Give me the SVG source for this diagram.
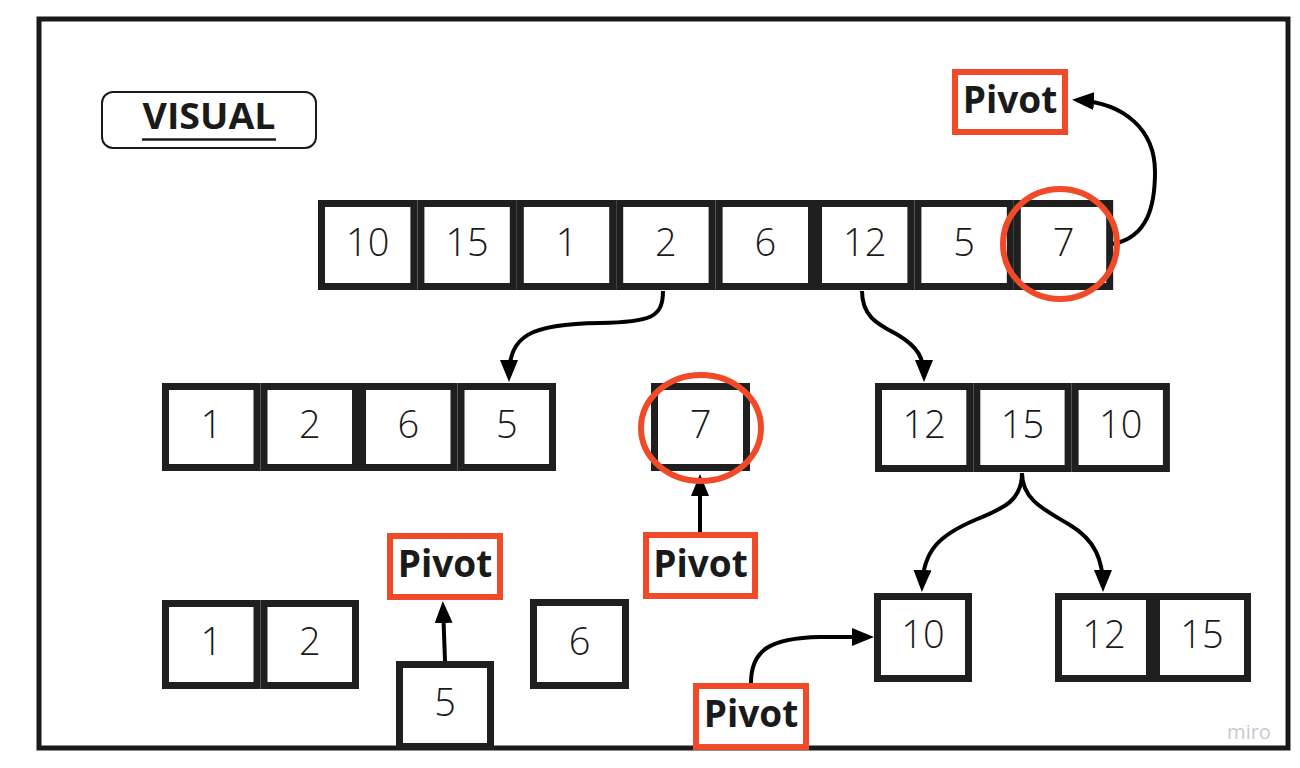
<svg xmlns="http://www.w3.org/2000/svg" width="1300" height="768" viewBox="0 0 1300 768">
<style>
.cell{fill:#fff;stroke:#1f1f1f;stroke-width:7}
.num{font-family:"Open Sans","Liberation Sans",sans-serif;font-size:38px;font-weight:300;fill:#1a1a1a;text-anchor:middle}
.pv{fill:#fff;stroke:#f04a28;stroke-width:6}
.pvt{font-family:"Open Sans","Liberation Sans",sans-serif;font-size:37px;font-weight:700;fill:#1a1a1a;text-anchor:middle}
.ring{fill:none;stroke:#f04a28;stroke-width:6}
.conn{fill:none;stroke:#000;stroke-width:4}
</style>
<defs>
<marker id="ah" viewBox="0 0 22 18" refX="17" refY="9" markerWidth="22" markerHeight="18" orient="auto" markerUnits="userSpaceOnUse"><path d="M0,0 L22,9 L0,18 Z" fill="#000"/></marker>
</defs>
<rect width="1300" height="768" fill="#fff"/>
<rect id="frame" x="39" y="19" width="1249" height="729" fill="none" stroke="#1a1a1a" stroke-width="5"/>
<g id="title">
<rect x="102" y="92" width="214" height="56" rx="11" fill="#fff" stroke="#1a1a1a" stroke-width="2"/>
<text x="209" y="129" textLength="133" lengthAdjust="spacingAndGlyphs" style="font-family:'Open Sans','Liberation Sans',sans-serif;font-size:36px;font-weight:700;fill:#1a1a1a;text-anchor:middle">VISUAL</text>
<line x1="142" y1="139.5" x2="276" y2="139.5" stroke="#1a1a1a" stroke-width="2.5"/>
</g>
<g id="connectors">
<path class="conn" marker-end="url(#ah)" d="M1112,244 C1148,238 1155,205 1155,172 C1155,130 1125,103 1077,100"/>
<path class="conn" marker-end="url(#ah)" d="M663,291 C663,318 650,322 600,323 C530,324 509,335 509,377"/>
<path class="conn" marker-end="url(#ah)" d="M862,291 C862,318 880,325 898,335 C918,347 924,358 924,377"/>
<path class="conn" marker-end="url(#ah)" d="M1022,473 C1022,500 1005,508 975,520 C940,535 923,550 922,587"/>
<path class="conn" marker-end="url(#ah)" d="M1022,473 C1022,500 1045,510 1070,525 C1095,540 1103,560 1103,587"/>
<path class="conn" marker-end="url(#ah)" d="M751,683 C751,650 770,638 820,637 L869,637"/>
<path class="conn" marker-end="url(#ah)" d="M700,532 L700,479"/>
<path class="conn" marker-end="url(#ah)" d="M445,661 L443,606"/>
</g>
<g id="row1">
<rect class="cell" x="321.5" y="203.5" width="92.4" height="83"/><text class="num" x="367.7" y="256">10</text>
<rect class="cell" x="420.9" y="203.5" width="92.4" height="83"/><text class="num" x="467.1" y="256">15</text>
<rect class="cell" x="520.3" y="203.5" width="92.4" height="83"/><text class="num" x="566.5" y="256">1</text>
<rect class="cell" x="619.7" y="203.5" width="92.4" height="83"/><text class="num" x="665.9" y="256">2</text>
<rect class="cell" x="719.1" y="203.5" width="92.4" height="83"/><text class="num" x="765.3" y="256">6</text>
<rect class="cell" x="818.5" y="203.5" width="92.4" height="83"/><text class="num" x="864.7" y="256">12</text>
<rect class="cell" x="917.9" y="203.5" width="92.4" height="83"/><text class="num" x="964.1" y="256">5</text>
<rect class="cell" x="1017.3" y="203.5" width="92.4" height="83"/><text class="num" x="1063.5" y="256">7</text>
<ellipse class="ring" cx="1060" cy="244" rx="57" ry="55"/>
</g>
<g id="pivot-top">
<rect class="pv" x="955" y="72" width="110" height="60"/>
<text class="pvt" x="1010" y="113">Pivot</text>
</g>
<g id="left-part">
<rect class="cell" x="165.5" y="386.5" width="91.5" height="81"/><text class="num" x="211.3" y="438">1</text>
<rect class="cell" x="264" y="386.5" width="91.5" height="81"/><text class="num" x="309.8" y="438">2</text>
<rect class="cell" x="362.5" y="386.5" width="91.5" height="81"/><text class="num" x="408.3" y="438">6</text>
<rect class="cell" x="461" y="386.5" width="91.5" height="81"/><text class="num" x="506.8" y="438">5</text>
</g>
<g id="pivot-7">
<rect class="cell" x="654.5" y="386.5" width="92" height="81"/><text class="num" x="700.5" y="438">7</text>
<ellipse class="ring" cx="701" cy="428" rx="60" ry="53"/>
</g>
<g id="right-part">
<rect class="cell" x="878.5" y="386.5" width="91.3" height="82"/><text class="num" x="924.2" y="438">12</text>
<rect class="cell" x="976.8" y="386.5" width="91.3" height="82"/><text class="num" x="1022.5" y="438">15</text>
<rect class="cell" x="1075.1" y="386.5" width="91.3" height="82"/><text class="num" x="1120.8" y="438">10</text>
</g>
<g id="pivot-mid">
<rect class="pv" x="646" y="535" width="109" height="61"/>
<text class="pvt" x="700.5" y="577">Pivot</text>
</g>
<g id="pivot-left">
<rect class="pv" x="390" y="536" width="110" height="61"/>
<text class="pvt" x="445" y="577">Pivot</text>
</g>
<g id="sub-1-2">
<rect class="cell" x="165.5" y="603.5" width="91.5" height="82"/><text class="num" x="211.3" y="655">1</text>
<rect class="cell" x="264" y="603.5" width="91.5" height="82"/><text class="num" x="309.8" y="655">2</text>
</g>
<g id="sub-5">
<rect class="cell" x="399.5" y="664.5" width="91" height="82"/><text class="num" x="445" y="716">5</text>
</g>
<g id="sub-6">
<rect class="cell" x="533.5" y="602.5" width="92" height="83"/><text class="num" x="579.5" y="655">6</text>
</g>
<g id="sub-10">
<rect class="cell" x="877.5" y="596.5" width="91" height="82"/><text class="num" x="923" y="648">10</text>
</g>
<g id="sub-12-15">
<rect class="cell" x="1058.5" y="596.5" width="91" height="82"/><text class="num" x="1104" y="648">12</text>
<rect class="cell" x="1156.5" y="596.5" width="91" height="82"/><text class="num" x="1202" y="648">15</text>
</g>
<g id="pivot-bottom">
<rect class="pv" x="696" y="686" width="110" height="61"/>
<text class="pvt" x="751" y="727">Pivot</text>
</g>
<text x="1249" y="739" style="font-family:'Open Sans','Liberation Sans',sans-serif;font-size:20px;fill:#c9c9d1;text-anchor:middle">miro</text>
</svg>
